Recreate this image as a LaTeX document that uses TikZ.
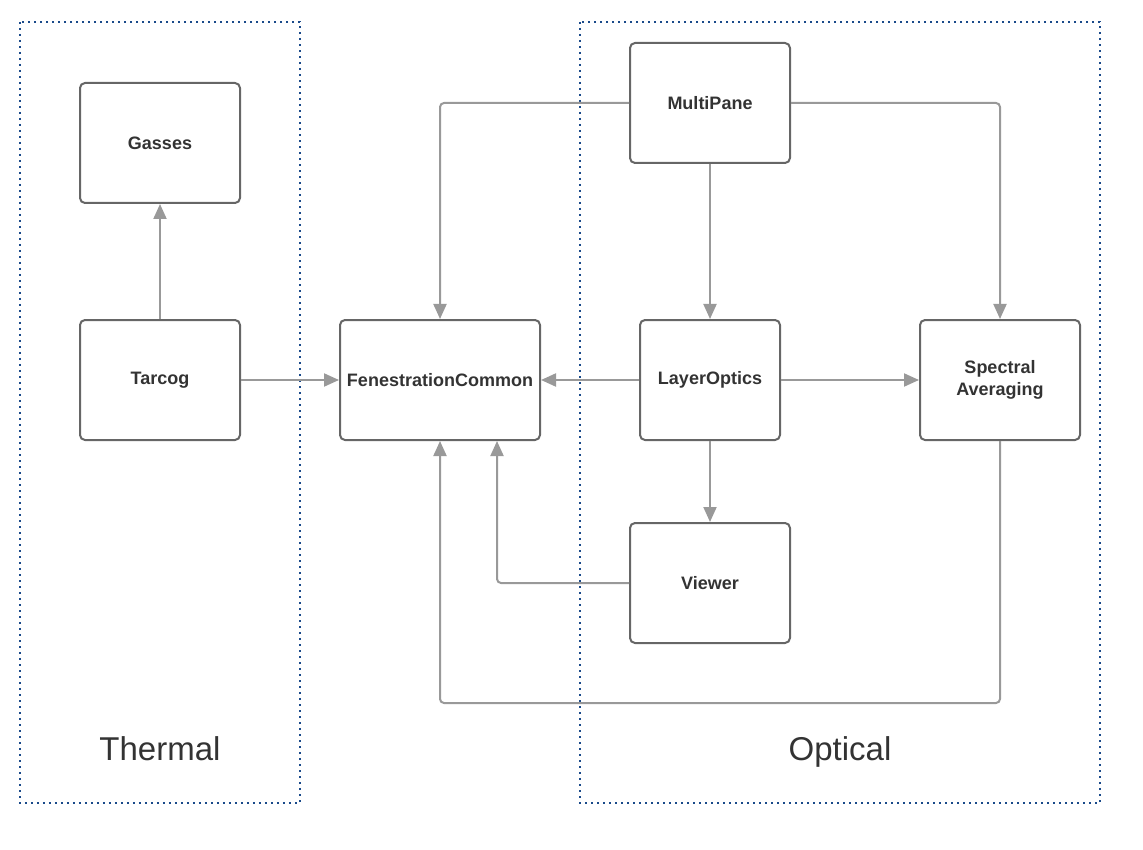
\documentclass[tikz,border=0pt]{standalone}
\usepackage{fontspec}
\setmainfont{Liberation Sans}
\usetikzlibrary{arrows.meta}
\definecolor{boxline}{HTML}{666666}
\definecolor{arrowline}{HTML}{999999}
\definecolor{groupline}{HTML}{1A4A8A}
\definecolor{textcol}{HTML}{333333}
\tikzset{
  module/.style={draw=boxline,line width=2pt,rounded corners=5pt,minimum height=120pt,
    text=textcol,font=\fontsize{18}{22}\selectfont\bfseries,align=center,inner sep=0pt},
  link/.style={draw=arrowline,line width=2pt,rounded corners=4pt,
    -{Triangle[length=15pt,width=13pt]}},
  group/.style={draw=groupline,line width=2.2pt,dash pattern=on 2.2pt off 3.8pt},
  grouplabel/.style={text=textcol,font=\fontsize{33}{40}\selectfont,anchor=base}
}
\begin{document}
\begin{tikzpicture}[x=1pt,y=-1pt]
\useasboundingbox (0,0) rectangle (1143,850);
\draw[group] (20,22) rectangle (300,803);
\draw[group] (580,22) rectangle (1100,803);
\node[grouplabel] (thermal) at (160,760){Thermal};
\node[grouplabel] (optical) at (840,760){Optical};
\node[module,minimum width=160pt] (gasses) at (160,143){Gasses};
\node[module,minimum width=160pt] (tarcog) at (160,380){Tarcog};
\node[module,minimum width=200pt] (common) at (440,380){FenestrationCommon};
\node[module,minimum width=160pt] (multipane) at (710,103){MultiPane};
\node[module,minimum width=140pt] (optics) at (710,380){LayerOptics};
\node[module,minimum width=160pt] (spectral) at (1000,380){Spectral\\Averaging};
\node[module,minimum width=160pt] (viewer) at (710,583){Viewer};
\draw[link] (tarcog) -- (gasses);
\draw[link] (tarcog) -- (common);
\draw[link] (optics) -- (common);
\draw[link] (optics) -- (spectral);
\draw[link] (optics) -- (viewer);
\draw[link] (multipane) -- (optics);
\draw[link] (multipane.west) -| (common.north);
\draw[link] (multipane.east) -| (spectral.north);
\draw[link] (viewer.west) -| ([xshift=57pt]common.south);
\draw[link] (spectral.south) -- (1000,703) -| (common.south);
\end{tikzpicture}
\end{document}
